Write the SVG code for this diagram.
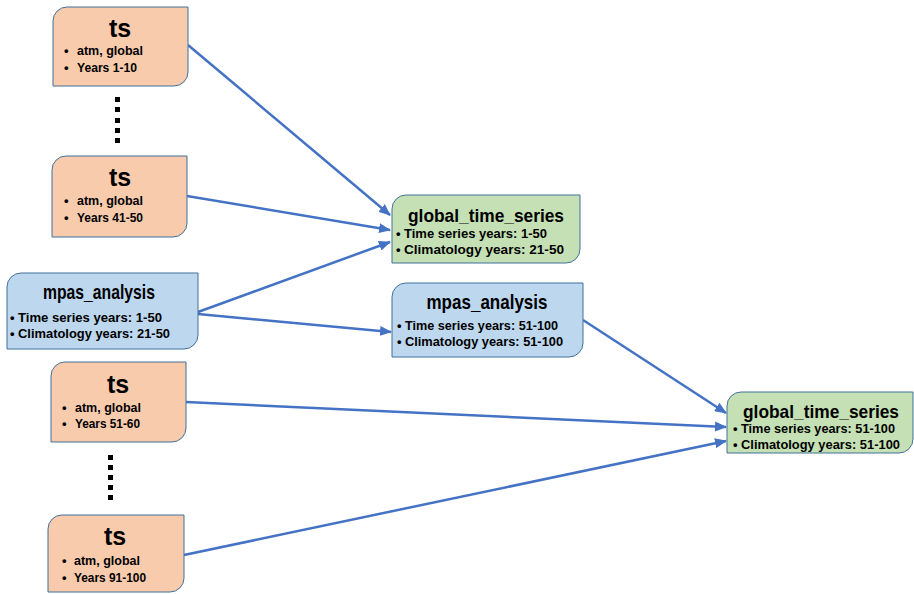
<svg xmlns="http://www.w3.org/2000/svg" width="914" height="594" viewBox="0 0 914 594">
<style>
.ts{fill:#F8CBAD;stroke:#41719C;stroke-width:1}
.mp{fill:#BDD7EE;stroke:#41719C;stroke-width:1}
.gt{fill:#C5E0B4;stroke:#41719C;stroke-width:1}
text{font-family:"Liberation Sans",Arial,sans-serif;font-weight:bold;fill:#000}
.t1{font-size:25px;text-anchor:middle}
.t2{font-size:21px;text-anchor:middle}
.t3{font-size:19px;text-anchor:middle}
.b{font-size:13px}
.c{stroke:#4472C4;stroke-width:2.5;fill:none;marker-end:url(#ah)}
.dot{fill:#000}
</style>
<defs>
<marker id="ah" markerUnits="userSpaceOnUse" markerWidth="12" markerHeight="10" refX="11" refY="5" orient="auto">
<path d="M0,0 L12,5 L0,10 Z" fill="#4472C4"/>
</marker>
</defs>
<g id="connectors">
<line class="c" x1="188" y1="45" x2="390" y2="215"/>
<line class="c" x1="187" y1="196" x2="390" y2="230"/>
<line class="c" x1="198" y1="312" x2="390" y2="242"/>
<line class="c" x1="198" y1="314" x2="391" y2="332"/>
<line class="c" x1="583" y1="320" x2="726" y2="413"/>
<line class="c" x1="186" y1="402" x2="726" y2="427"/>
<line class="c" x1="184" y1="555" x2="726" y2="441"/>
</g>
<g id="ts1">
<path class="ts" d="M67,7 H188 V72 A14,14 0 0 1 174,86 H53 V21 A14,14 0 0 1 67,7 Z"/>
<text class="t1" x="120" y="37">ts</text>
<text class="b" x="64" y="55">•</text><text class="b" x="77" y="55" textLength="66" lengthAdjust="spacingAndGlyphs">atm, global</text>
<text class="b" x="64" y="72">•</text><text class="b" x="77" y="72" textLength="60" lengthAdjust="spacingAndGlyphs">Years 1-10</text>
</g>
<g id="dots1">
<rect class="dot" x="115" y="97" width="5" height="5"/>
<rect class="dot" x="115" y="107" width="5" height="5"/>
<rect class="dot" x="115" y="118" width="5" height="5"/>
<rect class="dot" x="115" y="128" width="5" height="5"/>
<rect class="dot" x="115" y="138" width="5" height="5"/>
</g>
<g id="ts2">
<path class="ts" d="M66,156 H187 V223 A14,14 0 0 1 173,237 H52 V170 A14,14 0 0 1 66,156 Z"/>
<text class="t1" x="120" y="186">ts</text>
<text class="b" x="64" y="205">•</text><text class="b" x="77" y="205" textLength="66" lengthAdjust="spacingAndGlyphs">atm, global</text>
<text class="b" x="64" y="222">•</text><text class="b" x="77" y="222" textLength="66" lengthAdjust="spacingAndGlyphs">Years 41-50</text>
</g>
<g id="mpas1">
<path class="mp" d="M21,273 H198 V335 A14,14 0 0 1 184,349 H7 V287 A14,14 0 0 1 21,273 Z"/>
<text class="t2" x="99" y="299" textLength="112" lengthAdjust="spacingAndGlyphs">mpas_analysis</text>
<text class="b" x="10" y="322">•</text><text class="b" x="18" y="322" textLength="144" lengthAdjust="spacingAndGlyphs">Time series years: 1-50</text>
<text class="b" x="10" y="338">•</text><text class="b" x="18" y="338" textLength="152" lengthAdjust="spacingAndGlyphs">Climatology years: 21-50</text>
</g>
<g id="gts1">
<path class="gt" d="M406,195 H580 V249 A14,14 0 0 1 566,263 H392 V209 A14,14 0 0 1 406,195 Z"/>
<text class="t3" x="486" y="222" textLength="156" lengthAdjust="spacingAndGlyphs">global_time_series</text>
<text class="b" x="396" y="238">•</text><text class="b" x="404" y="238" textLength="143" lengthAdjust="spacingAndGlyphs">Time series years: 1-50</text>
<text class="b" x="396" y="254">•</text><text class="b" x="404" y="254" textLength="160" lengthAdjust="spacingAndGlyphs">Climatology years: 21-50</text>
</g>
<g id="mpas2">
<path class="mp" d="M406,283 H583 V343 A14,14 0 0 1 569,357 H392 V297 A14,14 0 0 1 406,283 Z"/>
<text class="t2" x="487" y="309" textLength="121" lengthAdjust="spacingAndGlyphs">mpas_analysis</text>
<text class="b" x="397" y="330">•</text><text class="b" x="405" y="330" textLength="153" lengthAdjust="spacingAndGlyphs">Time series years: 51-100</text>
<text class="b" x="397" y="346">•</text><text class="b" x="405" y="346" textLength="158" lengthAdjust="spacingAndGlyphs">Climatology years: 51-100</text>
</g>
<g id="gts2">
<path class="gt" d="M741,392 H913 V439 A14,14 0 0 1 899,453 H727 V406 A14,14 0 0 1 741,392 Z"/>
<text class="t3" x="821" y="418" textLength="156" lengthAdjust="spacingAndGlyphs">global_time_series</text>
<text class="b" x="733" y="433">•</text><text class="b" x="741" y="433" textLength="154" lengthAdjust="spacingAndGlyphs">Time series years: 51-100</text>
<text class="b" x="733" y="449">•</text><text class="b" x="741" y="449" textLength="159" lengthAdjust="spacingAndGlyphs">Climatology years: 51-100</text>
</g>
<g id="ts3">
<path class="ts" d="M65,362 H186 V428 A14,14 0 0 1 172,442 H51 V376 A14,14 0 0 1 65,362 Z"/>
<text class="t1" x="118" y="393">ts</text>
<text class="b" x="62" y="412">•</text><text class="b" x="75" y="412" textLength="66" lengthAdjust="spacingAndGlyphs">atm, global</text>
<text class="b" x="62" y="428">•</text><text class="b" x="75" y="428" textLength="65" lengthAdjust="spacingAndGlyphs">Years 51-60</text>
</g>
<g id="dots2">
<rect class="dot" x="108" y="455" width="5" height="5"/>
<rect class="dot" x="108" y="465" width="5" height="5"/>
<rect class="dot" x="108" y="475" width="5" height="5"/>
<rect class="dot" x="108" y="485" width="5" height="5"/>
<rect class="dot" x="108" y="495" width="5" height="5"/>
</g>
<g id="ts4">
<path class="ts" d="M62,515 H184 V578 A14,14 0 0 1 170,592 H48 V529 A14,14 0 0 1 62,515 Z"/>
<text class="t1" x="115" y="545">ts</text>
<text class="b" x="62" y="565">•</text><text class="b" x="74" y="565" textLength="66" lengthAdjust="spacingAndGlyphs">atm, global</text>
<text class="b" x="62" y="582">•</text><text class="b" x="74" y="582" textLength="72" lengthAdjust="spacingAndGlyphs">Years 91-100</text>
</g>
</svg>
